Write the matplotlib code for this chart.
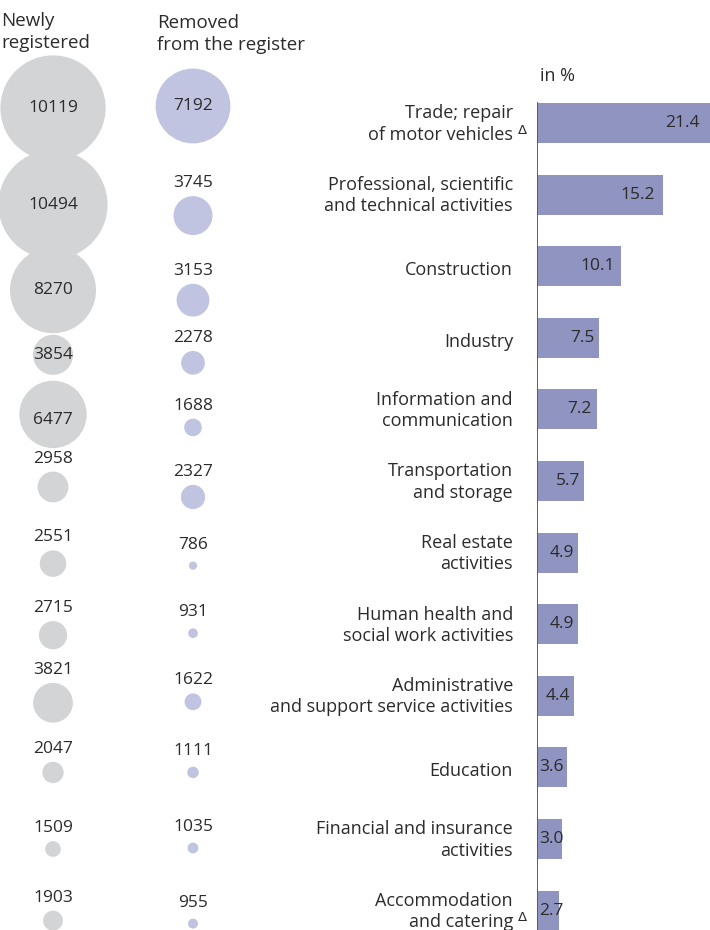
import matplotlib
matplotlib.use("Agg")
import matplotlib.pyplot as plt
from matplotlib.patches import Circle

plt.rcParams['font.family'] = ['Open Sans', 'DejaVu Sans']

# Industries, top to bottom
categories = [
    "Trade; repair\nof motor vehicles",
    "Professional, scientific\nand technical activities",
    "Construction",
    "Industry",
    "Information and\ncommunication",
    "Transportation\nand storage",
    "Real estate\nactivities",
    "Human health and\nsocial work activities",
    "Administrative\nand support service activities",
    "Education",
    "Financial and insurance\nactivities",
    "Accommodation\nand catering",
]
delta_flag = [True, False, False, False, False, False,
              False, False, False, False, False, True]

newly_registered = [10119, 10494, 8270, 3854, 6477, 2958,
                    2551, 2715, 3821, 2047, 1509, 1903]
removed = [7192, 3745, 3153, 2278, 1688, 2327,
           786, 931, 1622, 1111, 1035, 955]
share_pct = [21.4, 15.2, 10.1, 7.5, 7.2, 5.7, 4.9, 4.9, 4.4, 3.6, 3.0, 2.7]

# ---- layout (pixels) ----
W, H = 710, 930
ROW0, ROW_STEP = 123, 71.6
R_PER_UNIT = 0.0052          # bubble radius grows linearly with the count
GRAY_X, PURPLE_X = 53, 193
ZERO_X = 537
PX_PER_PCT = 8.3
BAR_H_PX = 40
gray_shift = [-15, 10, 24, 17, 5, 6, 11, 11, 7, 5, 10, 10]
purple_shift = [-17, 21, 34, 25, 18, 16, 13, 9, 6, 5, 9, 13]
INSIDE_MIN_R = 20            # numbers go inside bubbles at least this large

TEXT = "#2b2b2b"
GRAY = "#d3d4d6"
PURPLE = "#c1c4e1"
BAR = "#8f94c1"
AXIS = "#555555"

fig = plt.figure(figsize=(W / 100, H / 100), dpi=100)

# pixel-space canvas for bubbles and labels
ax = fig.add_axes([0, 0, 1, 1])
ax.set_xlim(0, W)
ax.set_ylim(H, 0)
ax.axis("off")

fs = 13.0
fs_num = 12.5
ax.text(1, 12, "Newly\nregistered", ha="left", va="top", fontsize=13.5,
        color=TEXT, linespacing=1.25)
ax.text(157, 14, "Removed\nfrom the register", ha="left", va="top",
        fontsize=13.5, color=TEXT, linespacing=1.25)
ax.text(540, 76, "in %", ha="left", va="center", fontsize=fs, color=TEXT)


def bubble(x, y, value, color, inside_dy=0):
    r = value * R_PER_UNIT
    ax.add_patch(Circle((x, y), r, facecolor=color, edgecolor="none", zorder=2))
    if r >= INSIDE_MIN_R:
        ax.text(x, y + inside_dy, f"{value}", ha="center", va="center",
                fontsize=fs_num, color=TEXT, zorder=3)
    else:
        ax.text(x, y - max(r, 8) - 13, f"{value}", ha="center", va="center",
                fontsize=fs_num, color=TEXT, zorder=3)


for i in range(len(categories)):
    row_y = ROW0 + ROW_STEP * i
    bubble(GRAY_X, row_y + gray_shift[i], newly_registered[i], GRAY,
           inside_dy=6 if newly_registered[i] == 6477 else 0)
    bubble(PURPLE_X, row_y + purple_shift[i], removed[i], PURPLE)
    single = "\n" not in categories[i]
    ax.text(513, row_y + (4 if single else 1), categories[i], ha="right",
            va="center", fontsize=fs, color=TEXT, linespacing=1.22)
    if delta_flag[i]:
        ax.text(518, row_y + 7, "Δ", ha="left", va="center",
                fontsize=9.5, color=TEXT, family=["DejaVu Sans"])

# bar panel: x in percent, y in row index
n = len(categories)
bar_ax = fig.add_axes([ZERO_X / W, 0, (W - ZERO_X) / W, 1])
xmax = (W - ZERO_X) / PX_PER_PCT
bar_ax.set_xlim(0, xmax)
bar_ax.set_ylim((H - ROW0) / ROW_STEP, -ROW0 / ROW_STEP)
bar_ax.axis("off")
rows = list(range(n))
bar_ax.barh(rows, share_pct, height=BAR_H_PX / ROW_STEP, color=BAR,
            edgecolor="none", zorder=1)
bar_ax.axvline(0, ymin=0, ymax=1 - (ROW0 - BAR_H_PX / 2) / H,
               color=AXIS, lw=1.3, zorder=3)
for i, v in enumerate(share_pct):
    end = min(v, xmax)
    x_right = max(end - (0.2 + 0.05 * end), 3.25)
    bar_ax.text(x_right, i, f"{v:.1f}", ha="right",
                va="center", fontsize=fs_num, color=TEXT, zorder=4)

fig.savefig("out.png", dpi=100)
